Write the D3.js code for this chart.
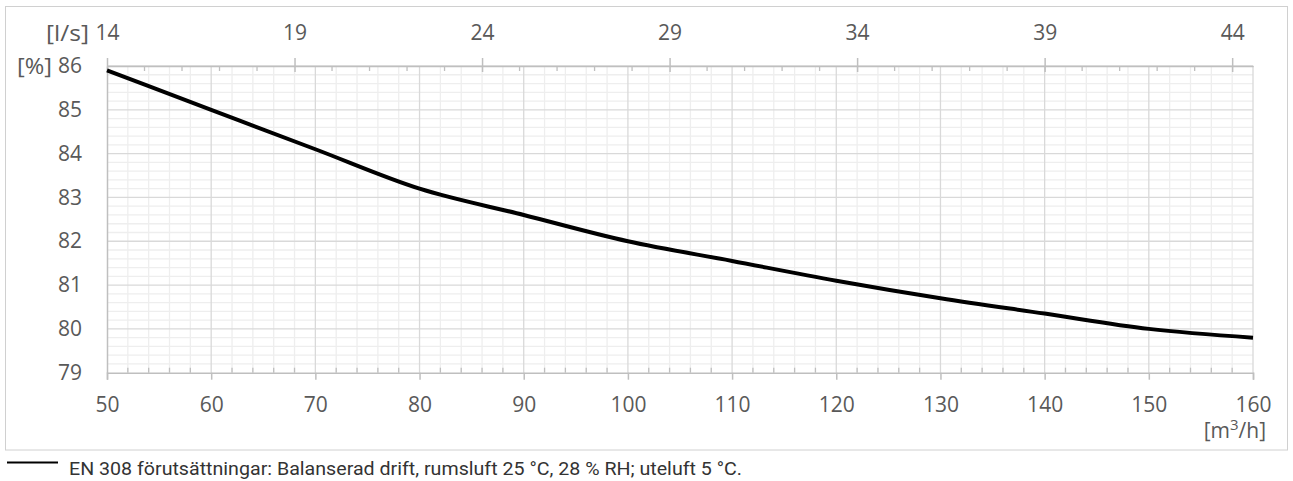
<!DOCTYPE html>
<html>
<head>
<meta charset="utf-8">
<script src="https://cdn.jsdelivr.net/npm/d3@7"></script>
<style>
  body { margin: 0; background: #fff; }
  svg { display: block; }
  text { font-family: "Open Sans", sans-serif; }
</style>
</head>
<body>
<svg width="1293" height="481"></svg>
<script>
// flow in m3/h and efficiency in %
const flow = [50, 60, 70, 80, 90, 100, 110, 120, 130, 140, 150, 160];
const efficiency = [85.9, 85.0, 84.1, 83.2, 82.6, 82.0, 81.55, 81.1, 80.7, 80.35, 80.0, 79.8];
const flowTicks = [50, 60, 70, 80, 90, 100, 110, 120, 130, 140, 150, 160];
const lsTicks = [14, 19, 24, 29, 34, 39, 44];
const lsRange = [14, 44.56];
const pctTicks = [79, 80, 81, 82, 83, 84, 85, 86];
const legendText = "EN 308 förutsättningar: Balanserad drift, rumsluft 25 °C, 28 % RH; uteluft 5 °C.";

var svg = d3.select("svg");
var pLeft = 107, pRight = 1253, pTop = 66, pBottom = 372.7;
var fs = "21px", labelColor = "#595959";

var x = d3.scaleLinear().domain([50, 160]).range([pLeft, pRight]);
var xTop = d3.scaleLinear().domain(lsRange).range([pLeft, pLeft + (lsRange[1] - lsRange[0]) * 3.6 * (pRight - pLeft) / 110]);
var y = d3.scaleLinear().domain([79, 86]).range([pBottom, pTop]);

// outer frame
svg.append("rect")
    .attr("x", 5.5).attr("y", 6.5)
    .attr("width", 1282).attr("height", 443.5)
    .attr("fill", "none").attr("stroke", "#d0d0d0");

var grid = svg.append("g");
// minor grid
grid.selectAll(".vmin")
    .data(d3.range(52, 160, 2).filter(function (d) { return d % 10 !== 0; }))
    .enter().append("line")
    .attr("x1", function (d) { return x(d); }).attr("x2", function (d) { return x(d); })
    .attr("y1", pTop).attr("y2", pBottom)
    .attr("stroke", "#eeeeee").attr("stroke-width", 1.3);
grid.selectAll(".hmin")
    .data(d3.range(0, 35).map(function (i) { return 79 + i * 0.2; }).filter(function (d, i) { return i % 5 !== 0; }))
    .enter().append("line")
    .attr("x1", pLeft).attr("x2", pRight)
    .attr("y1", function (d) { return y(d); }).attr("y2", function (d) { return y(d); })
    .attr("stroke", "#eeeeee").attr("stroke-width", 1.3);
// major grid
grid.selectAll(".vmaj")
    .data(flowTicks.slice(1))
    .enter().append("line")
    .attr("x1", function (d) { return x(d); }).attr("x2", function (d) { return x(d); })
    .attr("y1", pTop).attr("y2", pBottom)
    .attr("stroke", "#d9d9d9").attr("stroke-width", 1.3);
grid.selectAll(".hmaj")
    .data(pctTicks.slice(1))
    .enter().append("line")
    .attr("x1", pLeft).attr("x2", pRight)
    .attr("y1", function (d) { return y(d); }).attr("y2", function (d) { return y(d); })
    .attr("stroke", "#d9d9d9").attr("stroke-width", 1.3);

// bottom axis
var gx = svg.append("g").attr("transform", "translate(0," + pBottom + ")");
gx.call(d3.axisBottom(x).tickValues(flowTicks).tickSize(7).tickPadding(17))
gx.select(".domain").attr("stroke", "#bfbfbf").attr("stroke-width", 1.5);
gx.selectAll(".tick line").attr("stroke", "#bfbfbf").attr("stroke-width", 1.5);
gx.selectAll(".tick text").attr("font-size", fs).attr("fill", labelColor);
gx.selectAll(".minor")
    .data(d3.range(52, 160, 2).filter(function (d) { return d % 10 !== 0; }))
    .enter().append("line")
    .attr("x1", function (d) { return x(d); }).attr("x2", function (d) { return x(d); })
    .attr("y1", 0).attr("y2", -5)
    .attr("stroke", "#bfbfbf").attr("stroke-width", 1.3);

svg.append("text")
    .attr("x", 1266).attr("y", 438)
    .attr("text-anchor", "end")
    .attr("font-size", fs).attr("fill", labelColor)
    .html('[m<tspan dy="-8" font-size="15px">3</tspan><tspan dy="8">/h]</tspan>');

// top axis (l/s)
var gt = svg.append("g").attr("transform", "translate(0," + pTop + ")");
gt.call(d3.axisTop(xTop).tickValues(lsTicks).tickSizeInner(8).tickSizeOuter(0).tickPadding(18));
gt.select(".domain").attr("stroke", "#bfbfbf").attr("stroke-width", 1.5);
gt.selectAll(".tick line").attr("stroke", "#bfbfbf").attr("stroke-width", 1.5).attr("y2", -8).attr("y1", 6);
gt.selectAll(".tick text").attr("font-size", fs).attr("fill", labelColor);
gt.selectAll(".minor")
    .data(d3.range(15, 45).filter(function (d) { return (d - 14) % 5 !== 0; }))
    .enter().append("line")
    .attr("x1", function (d) { return xTop(d); }).attr("x2", function (d) { return xTop(d); })
    .attr("y1", 0).attr("y2", 5)
    .attr("stroke", "#bfbfbf").attr("stroke-width", 1.3);
svg.append("text")
    .attr("x", 89).attr("y", 41)
    .attr("text-anchor", "end")
    .attr("font-size", fs).attr("fill", labelColor)
    .attr("textLength", 43).attr("lengthAdjust", "spacingAndGlyphs")
    .text("[l/s]");

// left axis
var gy = svg.append("g").attr("transform", "translate(" + pLeft + ",0)");
gy.call(d3.axisLeft(y).tickValues(pctTicks).tickFormat(d3.format("d")).tickSize(0).tickPadding(25));
gy.select(".domain").attr("stroke", "#bfbfbf").attr("stroke-width", 1.5);
gy.selectAll(".tick text").attr("font-size", fs).attr("fill", labelColor);
svg.append("text")
    .attr("x", 52).attr("y", y(86) + 8)
    .attr("text-anchor", "end")
    .attr("font-size", fs).attr("fill", labelColor)
    .attr("textLength", 35).attr("lengthAdjust", "spacingAndGlyphs")
    .text("[%]");

// data line
var line = d3.line()
    .x(function (d, i) { return x(flow[i]); })
    .y(function (d) { return y(d); })
    .curve(d3.curveMonotoneX);
svg.append("path")
    .datum(efficiency)
    .attr("d", line)
    .attr("fill", "none")
    .attr("stroke", "#000")
    .attr("stroke-width", 4);

// legend
svg.append("line")
    .attr("x1", 7).attr("x2", 58)
    .attr("y1", 462.5).attr("y2", 462.5)
    .attr("stroke", "#000").attr("stroke-width", 2);
svg.append("text")
    .attr("x", 69).attr("y", 475)
    .style("font-family", "Roboto")
    .style("font-size", "18.5px")
    .attr("fill", "#333")
    .attr("textLength", 673)
    .attr("lengthAdjust", "spacingAndGlyphs")
    .text(legendText);
</script>
</body>
</html>
